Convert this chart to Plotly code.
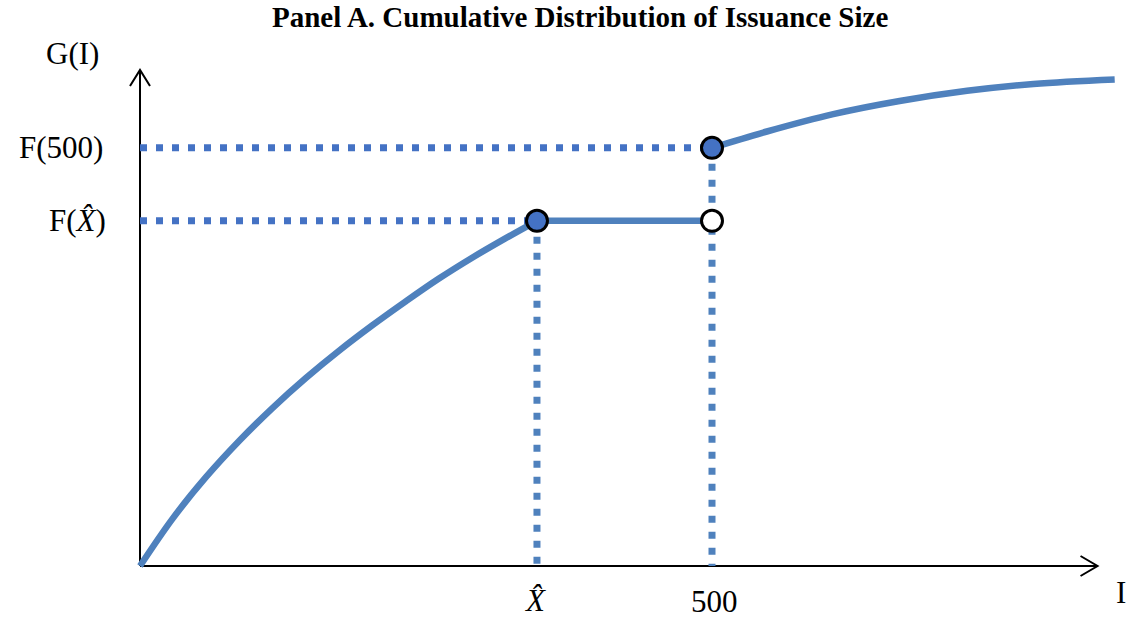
import plotly.graph_objects as go

# ---- data ----
X_HAT = 347          # position of X-hat on the I axis
I_500 = 500
F_XHAT = 0.696       # G value at X-hat
F_500 = 0.843        # G value at 500
X_END = 837          # end of I axis (arrow tip)
Y_TOP = 1.0          # end of G axis (arrow tip)

lower_I = [0, 29, 58, 87, 116, 145, 174, 203, 232, 261, 290, 319, 347]
lower_G = [0, 0.097, 0.180, 0.253, 0.319, 0.379, 0.434, 0.485, 0.533, 0.579, 0.621, 0.660, 0.696]
flat_I = [347, 500]
flat_G = [0.696, 0.696]
upper_I = [500, 548, 606, 664, 723, 781, 852]
upper_G = [0.843, 0.876, 0.911, 0.9375, 0.958, 0.972, 0.981]

# ---- layout scale (pixels per unit) ----
W, H = 1132, 619
X0_PX, Y0_PX = 140, 566
PX_PER_I = 1.144
PX_PER_G = 496.0
x_range = [-X0_PX / PX_PER_I, (W - X0_PX) / PX_PER_I]
y_range = [-(H - Y0_PX) / PX_PER_G, Y0_PX / PX_PER_G]

CURVE = "#4F81BD"
DOT_H = "#4472C4"
DOT_V = "#4F81BD"
FILL = "#4472C4"
FONT = "Liberation Serif"

fig = go.Figure()

dash = "7px,9px"
# dotted guide lines
fig.add_trace(go.Scatter(x=[0, I_500], y=[F_500, F_500], mode="lines",
                         line=dict(color=DOT_H, width=7, dash=dash), hoverinfo="skip"))
fig.add_trace(go.Scatter(x=[0, X_HAT], y=[F_XHAT, F_XHAT], mode="lines",
                         line=dict(color=DOT_H, width=7, dash=dash), hoverinfo="skip"))
fig.add_trace(go.Scatter(x=[X_HAT, X_HAT], y=[F_XHAT, 0], mode="lines",
                         line=dict(color=DOT_V, width=7, dash=dash), hoverinfo="skip"))
fig.add_trace(go.Scatter(x=[I_500, I_500], y=[F_500, 0], mode="lines",
                         line=dict(color=DOT_V, width=7, dash=dash), hoverinfo="skip"))

# the distribution curve
for xs, ys in [(lower_I, lower_G), (flat_I, flat_G), (upper_I, upper_G)]:
    fig.add_trace(go.Scatter(x=xs, y=ys, mode="lines",
                             line=dict(color=CURVE, width=6.5, shape="spline", smoothing=1.0),
                             hoverinfo="skip"))

# points
fig.add_trace(go.Scatter(x=[X_HAT, I_500], y=[F_XHAT, F_500], mode="markers",
                         marker=dict(size=21, color=FILL, line=dict(color="black", width=3)),
                         hoverinfo="skip", cliponaxis=False))
fig.add_trace(go.Scatter(x=[I_500], y=[F_XHAT], mode="markers",
                         marker=dict(size=21, color="white", line=dict(color="black", width=3)),
                         hoverinfo="skip", cliponaxis=False))

# axes with open arrowheads
ax_line = dict(color="black", width=2)
back_x = 17 / PX_PER_I
spread_g = 10 / PX_PER_G
back_g = 16 / PX_PER_G
spread_x = 10 / PX_PER_I
shapes = [
    dict(type="line", x0=0, y0=0, x1=X_END, y1=0, line=ax_line, layer="below"),
    dict(type="line", x0=0, y0=0, x1=0, y1=Y_TOP, line=ax_line, layer="below"),
    dict(type="path",
         path=f"M {X_END-back_x},{spread_g} L {X_END},0 L {X_END-back_x},{-spread_g}",
         line=ax_line, layer="below"),
    dict(type="path",
         path=f"M {-spread_x},{Y_TOP-back_g} L 0,{Y_TOP} L {spread_x},{Y_TOP-back_g}",
         line=ax_line, layer="below"),
]

lab = dict(family=FONT, size=31, color="black")
annotations = [
    dict(x=0, y=Y_TOP, text="G(I)", showarrow=False, xshift=-68, yshift=17, font=lab),
    dict(x=0, y=F_500, text="F(500)", showarrow=False, xanchor="right", xshift=-35, font=lab),
    dict(x=0, y=F_XHAT, text="F(<i>X̂</i>)", showarrow=False, xanchor="right", xshift=-32, font=lab),
    dict(x=X_HAT, y=0, text="<i>X̂</i>", showarrow=False, xshift=-2, yshift=-34, font=lab),
    dict(x=I_500, y=0, text="500", showarrow=False, xshift=2, yshift=-35, font=lab),
    dict(x=X_END, y=0, text="I", showarrow=False, xshift=23, yshift=-26, font=lab),
    dict(xref="paper", yref="paper", x=580 / W, y=1 - 17 / H, xanchor="center", yanchor="middle",
         text="<b>Panel A. Cumulative Distribution of Issuance Size</b>", showarrow=False,
         font=dict(family=FONT, size=29, color="black")),
]

fig.update_layout(
    width=W, height=H,
    margin=dict(l=0, r=0, t=0, b=0),
    paper_bgcolor="white", plot_bgcolor="white",
    showlegend=False,
    xaxis=dict(range=x_range, visible=False, fixedrange=True),
    yaxis=dict(range=y_range, visible=False, fixedrange=True),
    shapes=shapes,
    annotations=annotations,
)

fig.write_html("out.html", config={"displayModeBar": False},
               post_script="document.body.style.margin='0';document.body.style.overflow='hidden';")
